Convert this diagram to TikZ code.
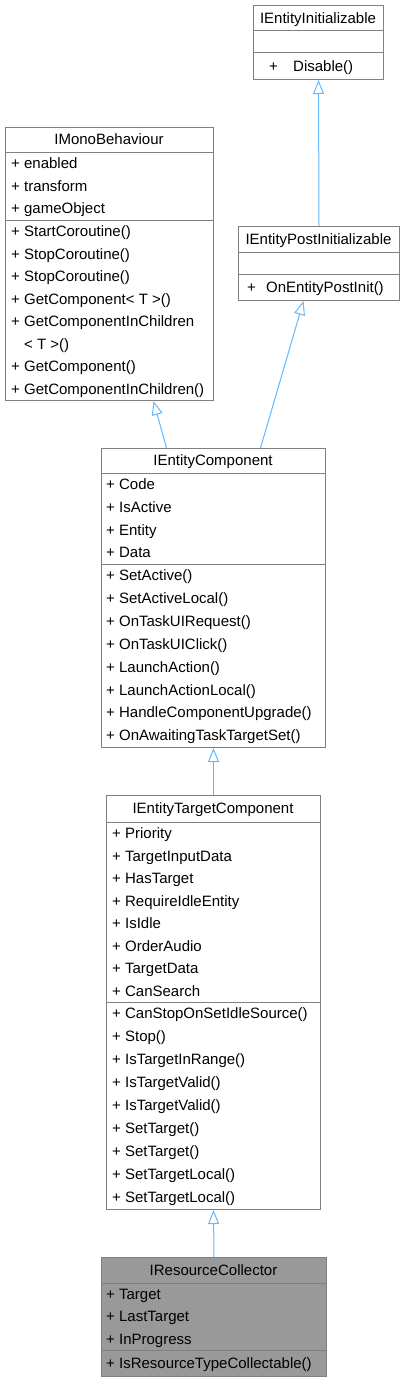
\documentclass[tikz,border=0pt]{standalone}
\usepackage{fontspec}
\setmainfont{Liberation Sans}
\usetikzlibrary{arrows.meta,calc}

\definecolor{edgeblue}{HTML}{63B8FF}
\definecolor{boxgray}{HTML}{808080}
\definecolor{hilite}{HTML}{999999}

\begin{document}
\begin{tikzpicture}[x=1pt,y=-1pt,
  classbox/.style={draw=boxgray,line width=1pt,fill=white,anchor=north west,inner sep=0pt},
  clsname/.style={font=\fontsize{15}{18}\selectfont,inner sep=0pt,anchor=base},
  member/.style={font=\fontsize{15}{18}\selectfont,inner sep=0pt,anchor=base west},
  sep/.style={draw=boxgray,line width=1pt},
  inherit/.style={color=edgeblue,line width=1pt,-{Triangle[length=14pt,width=11pt,fill=white]}}]
\useasboundingbox (0,0) rectangle (405,1381);

% IEntityInitializable
\node[classbox,minimum width=130pt,minimum height=74pt] (init) at (253,5) {};
\node[clsname] at (318,23.3) {IEntityInitializable};
\draw[sep] (init.west |- 0,31) -- (init.east |- 0,31);
\draw[sep] (init.west |- 0,53) -- (init.east |- 0,53);
\node[member] at (269,71.3) {+};
\node[member] at (293,71.3) {Disable()};

% IMonoBehaviour
\node[classbox,minimum width=208pt,minimum height=273pt] (mono) at (5,127) {};
\node[clsname] at (109,144.8) {IMonoBehaviour};
\draw[sep] (mono.west |- 0,152) -- (mono.east |- 0,152);
\draw[sep] (mono.west |- 0,220) -- (mono.east |- 0,220);
\foreach \m [count=\i] in {enabled,transform,gameObject}
  \node[member] at ({11},{152+(\i-0.5)*22.67+5.3}) {+ \m};
\foreach \m [count=\i] in {+ StartCoroutine(),+ StopCoroutine(),+ StopCoroutine(),
    + GetComponent< T >(),+ GetComponentInChildren,\phantom{+ }< T >(),
    + GetComponent(),+ GetComponentInChildren()}
  \node[member] at ({11},{220+(\i-0.5)*22.5+5.3}) {\m};

% IEntityPostInitializable
\node[classbox,minimum width=161pt,minimum height=74pt] (postinit) at (238,226) {};
\node[clsname] at (318.5,244.3) {IEntityPostInitializable};
\draw[sep] (postinit.west |- 0,252) -- (postinit.east |- 0,252);
\draw[sep] (postinit.west |- 0,274) -- (postinit.east |- 0,274);
\node[member] at (247,292.3) {+};
\node[member] at (266,292.3) {OnEntityPostInit()};

% IEntityComponent
\node[classbox,minimum width=224pt,minimum height=299pt] (ecomp) at (101,448) {};
\node[clsname] at (213,465.8) {IEntityComponent};
\draw[sep] (ecomp.west |- 0,473) -- (ecomp.east |- 0,473);
\draw[sep] (ecomp.west |- 0,564) -- (ecomp.east |- 0,564);
\foreach \m [count=\i] in {Code,IsActive,Entity,Data}
  \node[member] at ({106},{473+(\i-0.5)*22.75+5.3}) {+ \m};
\foreach \m [count=\i] in {SetActive(),SetActiveLocal(),OnTaskUIRequest(),OnTaskUIClick(),
    LaunchAction(),LaunchActionLocal(),HandleComponentUpgrade(),OnAwaitingTaskTargetSet()}
  \node[member] at ({106},{564+(\i-0.5)*22.875+5.3}) {+ \m};

% IEntityTargetComponent
\node[classbox,minimum width=214pt,minimum height=414pt] (tcomp) at (106,795) {};
\node[clsname] at (213,813.8) {IEntityTargetComponent};
\draw[sep] (tcomp.west |- 0,822) -- (tcomp.east |- 0,822);
\draw[sep] (tcomp.west |- 0,1002) -- (tcomp.east |- 0,1002);
\foreach \m [count=\i] in {Priority,TargetInputData,HasTarget,RequireIdleEntity,
    IsIdle,OrderAudio,TargetData,CanSearch}
  \node[member] at ({112},{822+(\i-0.5)*22.5+5.3}) {+ \m};
\foreach \m [count=\i] in {CanStopOnSetIdleSource(),Stop(),IsTargetInRange(),IsTargetValid(),
    IsTargetValid(),SetTarget(),SetTarget(),SetTargetLocal(),SetTargetLocal()}
  \node[member] at ({112},{1002+(\i-0.5)*23+5.3}) {+ \m};

% IResourceCollector
\node[classbox,fill=hilite,minimum width=225pt,minimum height=119pt] (rcoll) at (101,1257) {};
\node[clsname] at (213.5,1275.3) {IResourceCollector};
\draw[sep] (rcoll.west |- 0,1283) -- (rcoll.east |- 0,1283);
\draw[sep] (rcoll.west |- 0,1350) -- (rcoll.east |- 0,1350);
\foreach \m [count=\i] in {Target,LastTarget,InProgress}
  \node[member] at ({106},{1283+(\i-0.5)*22.33+5.3}) {+ \m};
\node[member] at (106,1368.3) {+ IsResourceTypeCollectable()};

% inheritance
\path[inherit]
  (postinit.north) edge (init.south)
  ($(ecomp.north)+(-47,0)$) edge ($(mono.south)+(44,0)$)
  ($(ecomp.north)+(47,0)$) edge ($(postinit.south)+(-15.5,0)$)
  (tcomp.north) edge (ecomp.south)
  (rcoll.north) edge (tcomp.south);
\end{tikzpicture}
\end{document}
